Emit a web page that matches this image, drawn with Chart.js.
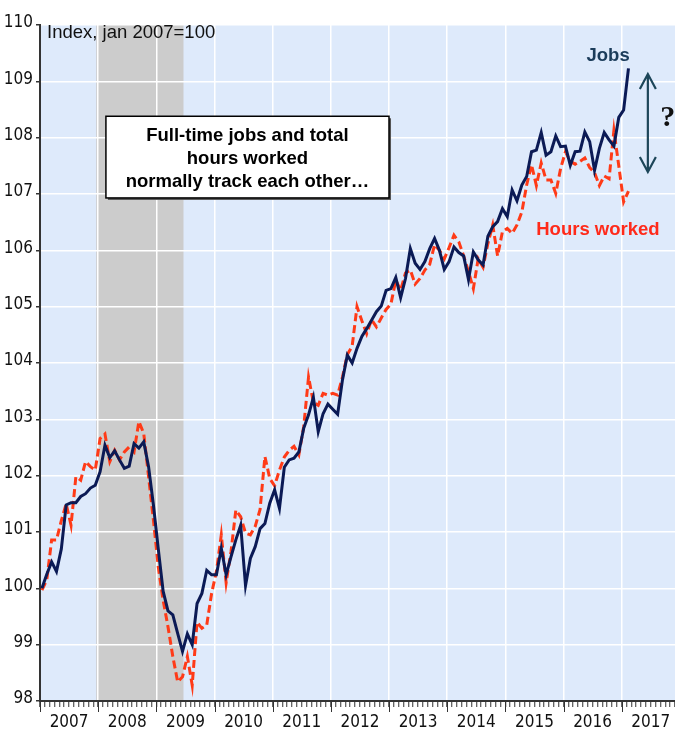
<!DOCTYPE html>
<html>
<head>
<meta charset="utf-8">
<script src="https://cdn.jsdelivr.net/npm/chart.js@4.4.1/dist/chart.umd.min.js"></script>
<style>
  html, body { margin: 0; padding: 0; background: #fff; }
  #wrap { width: 675px; height: 732px; }
</style>
</head>
<body>
<div id="wrap"><canvas id="chart" width="675" height="732"></canvas></div>
<script>
// monthly readings, Jan 2007 .. Feb 2017, index jan 2007 = 100
const years = [2007, 2008, 2009, 2010, 2011, 2012, 2013, 2014, 2015, 2016, 2017];

const jobs = [
  100.0, 100.25, 100.47, 100.3, 100.7, 101.48, 101.52, 101.52, 101.63, 101.68, 101.78, 101.83,
  102.07, 102.54, 102.32, 102.44, 102.28, 102.13, 102.17, 102.57, 102.49, 102.6, 102.16, 101.48,
  100.7, 99.95, 99.6, 99.53, 99.2, 98.88, 99.19, 99.0, 99.73, 99.91, 100.32, 100.24,
  100.24, 100.71, 100.24, 100.56, 100.86, 101.12, 100.05, 100.53, 100.74, 101.06, 101.15, 101.51,
  101.75, 101.42, 102.15, 102.28, 102.31, 102.42, 102.84, 103.08, 103.39, 102.78, 103.1, 103.27,
  103.18, 103.09, 103.7, 104.14, 104.0, 104.26, 104.47, 104.61, 104.76, 104.91, 105.01, 105.29,
  105.32, 105.52, 105.16, 105.5, 106.03, 105.77, 105.66, 105.8, 106.03, 106.21, 106.0, 105.66,
  105.8, 106.06, 105.96, 105.9, 105.48, 105.97, 105.83, 105.74, 106.25, 106.42, 106.51, 106.74,
  106.6, 107.07, 106.88, 107.16, 107.31, 107.75, 107.78, 108.09, 107.69, 107.75, 108.03, 107.84,
  107.85, 107.51, 107.75, 107.76, 108.1, 107.93, 107.42, 107.81, 108.09, 107.96, 107.85, 108.36,
  108.49, 109.23
];

const hours = [
  99.97, 100.15, 100.86, 100.86, 101.2, 101.5, 101.12, 101.98, 101.92, 102.25, 102.16, 102.1,
  102.66, 102.74, 102.25, 102.45, 102.28, 102.42, 102.51, 102.42, 102.96, 102.75, 101.98, 101.21,
  100.38, 99.79, 99.32, 98.79, 98.34, 98.43, 98.79, 98.28, 99.4, 99.29, 99.35, 99.91,
  100.3, 100.95, 100.1, 100.65, 101.39, 101.27, 100.98, 100.95, 101.1, 101.4, 102.34, 101.95,
  101.82, 102.1, 102.33, 102.45, 102.52, 102.37, 102.87, 103.75, 103.3, 103.25, 103.46, 103.43,
  103.46, 103.43, 103.75, 104.15, 104.3, 105.0, 104.75, 104.52, 104.77, 104.64, 104.8, 104.95,
  105.05, 105.47, 105.29, 105.6, 105.65, 105.4, 105.5, 105.65, 105.75, 106.1, 106.0, 105.85,
  106.05, 106.27, 106.15, 105.9, 105.62, 105.32, 105.85, 105.7, 106.12, 106.45, 105.9, 106.33,
  106.39, 106.3, 106.45, 106.68, 107.16, 107.52, 107.15, 107.55, 107.25, 107.25, 107.01, 107.45,
  107.75, 107.58, 107.53, 107.58, 107.64, 107.47, 107.38, 107.15, 107.32, 107.27, 108.13, 107.5,
  106.86, 107.05
];

// recession shading, in months since jan 2007
const recession = [11.6, 29.6];

const tickFont = { family: '"Liberation Sans Narrow", "Arial Narrow", "DejaVu Sans Condensed", sans-serif', size: 17 };
const axisColor = "#333";

// points sit a little after the month start, like in the original
const toPoints = (arr) => arr.map((v, i) => ({ x: i + 0.4, y: v }));

const backdrop = {
  id: "backdrop",
  beforeDraw(chart) {
    const { ctx, chartArea: a, scales: { x } } = chart;
    ctx.save();
    ctx.fillStyle = "#deeafb";
    ctx.fillRect(a.left, a.top, a.right - a.left, a.bottom - a.top);
    const x0 = x.getPixelForValue(recession[0]);
    const x1 = x.getPixelForValue(recession[1]);
    ctx.fillStyle = "#cccccc";
    ctx.fillRect(x0, a.top, x1 - x0, a.bottom - a.top);
    ctx.restore();
  },
};

const notes = {
  id: "notes",
  afterDraw(chart) {
    const { ctx, chartArea: a, scales: { x, y } } = chart;
    const px = (m) => x.getPixelForValue(m);
    const py = (v) => y.getPixelForValue(v);
    ctx.save();

    // longer tick marks at year boundaries
    ctx.strokeStyle = axisColor;
    ctx.lineWidth = 1;
    years.forEach((yr, k) => {
      const xx = Math.round(px(k * 12)) + 0.5;
      ctx.beginPath();
      ctx.moveTo(xx, a.bottom + 1);
      ctx.lineTo(xx, a.bottom + 11);
      ctx.stroke();
    });

    ctx.textBaseline = "middle";
    ctx.fillStyle = "#111";
    ctx.font = '18.5px "Liberation Sans", Arial, sans-serif';
    ctx.textAlign = "left";
    ctx.fillText("Index, jan 2007=100", px(1.45), py(109.86));

    // text box
    const bx0 = px(13.6), bx1 = px(72.0), by0 = py(108.38), by1 = py(106.93);
    ctx.fillStyle = "#555";
    ctx.fillRect(bx0 + 2, by0 + 2, bx1 - bx0, by1 - by0);
    ctx.fillStyle = "#fff";
    ctx.fillRect(bx0, by0, bx1 - bx0, by1 - by0);
    ctx.strokeStyle = "#000";
    ctx.lineWidth = 1.5;
    ctx.strokeRect(bx0, by0, bx1 - bx0, by1 - by0);
    ctx.fillStyle = "#000";
    ctx.font = 'bold 18.5px "Liberation Sans", Arial, sans-serif';
    ctx.textAlign = "center";
    const cx = (bx0 + bx1) / 2;
    ctx.fillText("Full-time jobs and total", cx, py(108.03));
    ctx.fillText("hours worked", cx, py(107.62));
    ctx.fillText("normally track each other\u2026", cx, py(107.21));

    // series labels
    ctx.fillStyle = "#1b3c5a";
    ctx.fillText("Jobs", px(117.2), py(109.45));
    ctx.fillStyle = "#ff2a1a";
    ctx.fillText("Hours worked", px(115.1), py(106.37));

    // gap arrow
    const ax = px(125.4), ay0 = py(109.13), ay1 = py(107.39);
    ctx.strokeStyle = "#1d4659";
    ctx.lineWidth = 2.2;
    ctx.beginPath();
    ctx.moveTo(ax, ay0);
    ctx.lineTo(ax, ay1);
    ctx.moveTo(ax - 8, ay0 + 15);
    ctx.lineTo(ax, ay0);
    ctx.lineTo(ax + 8, ay0 + 15);
    ctx.moveTo(ax - 8, ay1 - 15);
    ctx.lineTo(ax, ay1);
    ctx.lineTo(ax + 8, ay1 - 15);
    ctx.stroke();

    ctx.fillStyle = "#111";
    ctx.font = 'bold 30px "Liberation Serif", "Times New Roman", serif';
    ctx.fillText("?", px(129.5), py(108.35));
    ctx.restore();
  },
};

const months = [];
for (let m = 0; m <= 131; m++) months.push(m);

new Chart(document.getElementById("chart"), {
  type: "line",
  data: {
    datasets: [
      {
        label: "Jobs",
        data: toPoints(jobs),
        borderColor: "#0b1a55",
        borderWidth: 3,
        pointRadius: 0,
        tension: 0,
      },
      {
        label: "Hours worked",
        data: toPoints(hours),
        borderColor: "#ff3a17",
        borderWidth: 3,
        borderDash: [8, 4],
        borderCapStyle: "butt",
        pointRadius: 0,
        tension: 0,
      },
    ],
  },
  options: {
    responsive: false,
    animation: false,
    layout: { padding: { top: 25, right: 0, left: 0, bottom: 0 } },
    plugins: {
      legend: { display: false },
      tooltip: { enabled: false },
    },
    scales: {
      x: {
        type: "linear",
        min: 0,
        max: 131,
        afterBuildTicks: (s) => {
          s.ticks = months.map((v) => ({ value: v }));
        },
        afterFit: (s) => {
          s.height = 31;
          s.paddingLeft = 0;
          s.paddingRight = 0;
        },
        ticks: {
          autoSkip: false,
          maxRotation: 0,
          padding: 5,
          color: "#111",
          font: tickFont,
          callback: (v) => (v % 12 === 6 ? String(years[(v - 6) / 12]) : ""),
        },
        grid: {
          color: (c) => (c.tick && c.tick.value % 12 === 0 ? "#ffffff" : "rgba(0,0,0,0)"),
          lineWidth: 1.5,
          tickLength: 6,
          tickColor: axisColor,
          tickWidth: 1,
        },
        border: { color: axisColor, width: 2 },
      },
      y: {
        min: 98,
        max: 110,
        afterFit: (s) => {
          s.width = 40;
        },
        ticks: {
          stepSize: 1,
          padding: 3,
          labelOffset: -2,
          color: "#111",
          font: tickFont,
        },
        grid: {
          color: "#ffffff",
          lineWidth: 1.5,
          tickLength: 4,
          tickColor: axisColor,
        },
        border: { color: axisColor, width: 2 },
      },
    },
  },
  plugins: [backdrop, notes],
});
</script>
</body>
</html>
